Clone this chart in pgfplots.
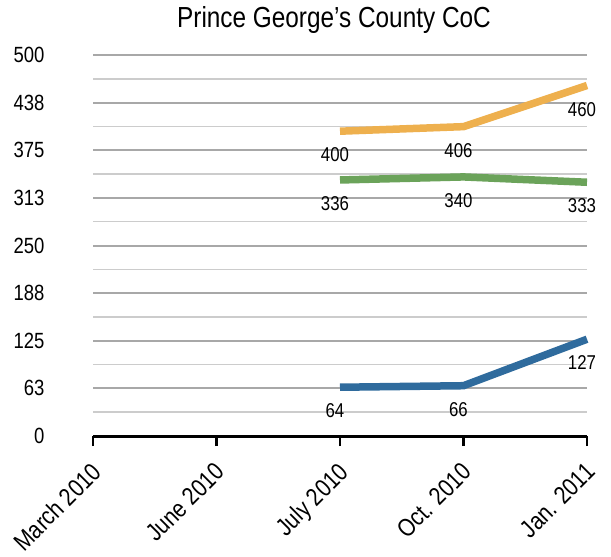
\documentclass[border=0pt]{standalone}
\usepackage{fontspec}
\setmainfont{Liberation Sans}[FakeStretch=0.84]
\usepackage{pgfplots}
\pgfplotsset{compat=1.18}

\definecolor{seriesOrange}{HTML}{EEB04E}
\definecolor{seriesGreen}{HTML}{6BA35A}
\definecolor{seriesBlue}{HTML}{2F6B9D}
\definecolor{gridMajor}{HTML}{A8A8A8}
\definecolor{gridMinor}{HTML}{CCCCCC}

\begin{document}
\begin{tikzpicture}
\useasboundingbox (0pt,0pt) rectangle (611pt,-557pt);
\node[font=\fontsize{29}{33}\selectfont] at (334pt,-20pt) {Prince George's County CoC};
\begin{axis}[
  at={(93pt,-436pt)}, anchor=south west,
  scale only axis, width=494pt, height=381pt,
  xmin=0, xmax=4, ymin=0, ymax=500,
  /pgf/number format/assume math mode=true,
  axis x line*=bottom, axis y line*=left,
  y axis line style={draw=none},
  x axis line style={black, line width=3pt},
  xtick={0,1,2,3,4},
  xticklabels={March 2010, June 2010, July 2010, Oct. 2010, Jan. 2011},
  xtick style={black, line width=2.5pt},
  tick align=outside, major tick length=10pt,
  xticklabel style={xshift=-3pt, yshift=-15pt, rotate=45, anchor=north east, inner sep=0pt,
    font=\fontsize{25}{28}\selectfont},
  ytick={0,62.5,125,187.5,250,312.5,375,437.5,500},
  yticklabels={0,63,125,188,250,313,375,438,500},
  minor ytick={31.25,93.75,156.25,218.75,281.25,343.75,406.25,468.75},
  ytick style={draw=none}, minor y tick style={draw=none},
  yticklabel style={font=\fontsize{22}{25}\selectfont, xshift=-35pt},
  ymajorgrids, yminorgrids,
  major grid style={gridMajor, line width=2pt},
  minor grid style={gridMinor, line width=1.6pt},
  clip=false,
  every axis plot/.append style={line width=7.5pt, line cap=butt},
  nodes near coords,
  every node near coord/.append style={font=\fontsize{20}{23}\selectfont, anchor=north,
    xshift=-5pt, yshift=-9.5pt, text=black},
]
\addplot[seriesOrange] coordinates {(2,400) (3,406) (4,460)};
\addplot[seriesGreen] coordinates {(2,336) (3,340) (4,333)};
\addplot[seriesBlue] coordinates {(2,64) (3,66) (4,127)};
\end{axis}
\end{tikzpicture}
\end{document}
